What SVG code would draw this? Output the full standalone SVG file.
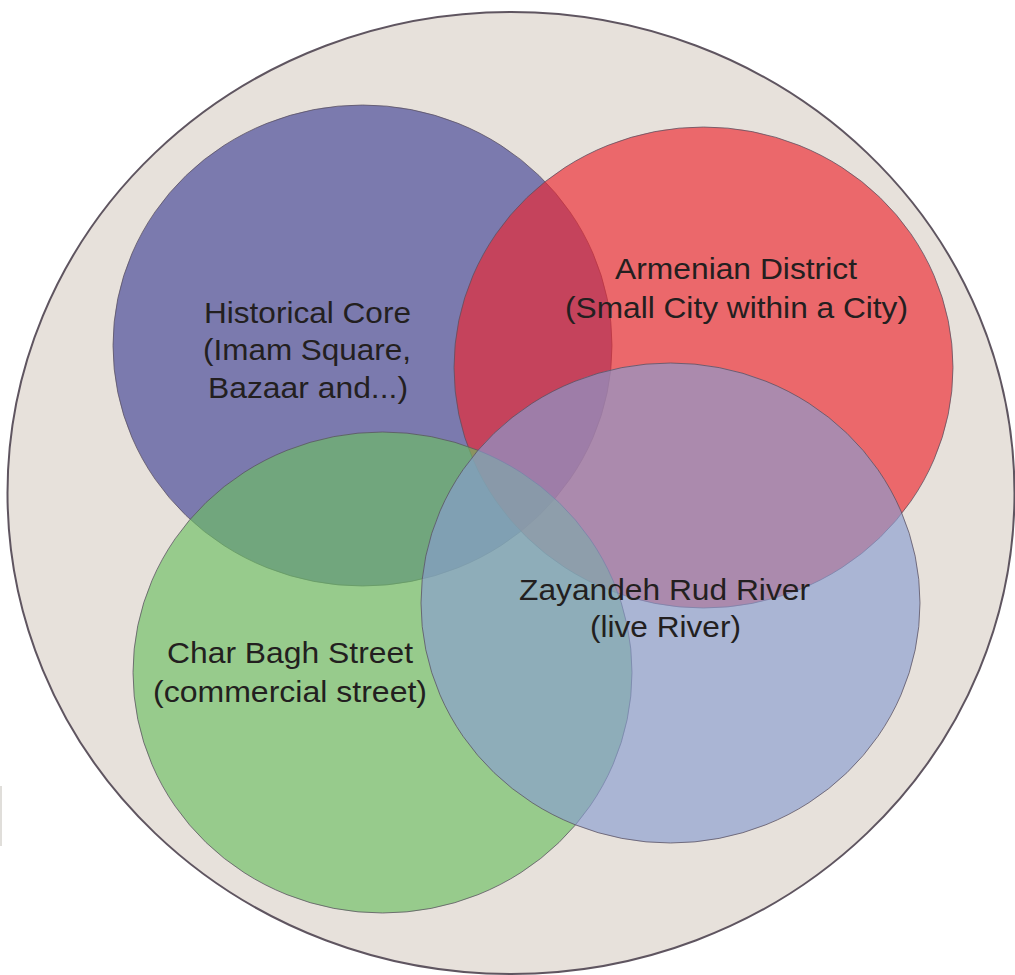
<svg xmlns="http://www.w3.org/2000/svg" width="1015" height="975" viewBox="0 0 1015 975">
<style>
.set{stroke:#5a5060;stroke-width:0.9;stroke-opacity:0.85}
.lbl{font-family:"Liberation Sans",Arial,sans-serif;font-size:29.5px;fill:#231F20;text-anchor:middle}
</style>
<rect x="0" y="0" width="1015" height="975" fill="#FFFFFF"/>
<rect x="0" y="786" width="2" height="60" fill="#E0DEDA"/>
<g id="city">
<ellipse cx="511" cy="493" rx="503.5" ry="481" fill="#E7E1DB" stroke="#5F5560" stroke-width="2"/>
</g>
<g id="historical-core">
<ellipse class="set" cx="362.5" cy="345.5" rx="249.5" ry="240.5" fill="#7B7AAE"/>
</g>
<g id="armenian-district">
<ellipse class="set" cx="703.5" cy="367.5" rx="249.5" ry="240.5" fill="#EC272F" fill-opacity="0.65"/>
</g>
<g id="char-bagh">
<ellipse class="set" cx="382.5" cy="672.5" rx="249.5" ry="240.5" fill="#6CBE62" fill-opacity="0.65"/>
</g>
<g id="zayandeh-rud">
<ellipse class="set" cx="670.5" cy="603" rx="249.5" ry="240" fill="#899CD1" fill-opacity="0.65"/>
</g>
<g id="labels">
<text class="lbl" x="307.5" y="323" textLength="207" lengthAdjust="spacingAndGlyphs">Historical Core</text>
<text class="lbl" x="307" y="360" textLength="208" lengthAdjust="spacingAndGlyphs">(Imam Square,</text>
<text class="lbl" x="308" y="398" textLength="200" lengthAdjust="spacingAndGlyphs">Bazaar and...)</text>
<text class="lbl" x="736" y="279" textLength="242" lengthAdjust="spacingAndGlyphs">Armenian District</text>
<text class="lbl" x="736.5" y="318" textLength="343" lengthAdjust="spacingAndGlyphs">(Small City within a City)</text>
<text class="lbl" x="290" y="663" textLength="246" lengthAdjust="spacingAndGlyphs">Char Bagh Street</text>
<text class="lbl" x="290" y="702" textLength="274" lengthAdjust="spacingAndGlyphs">(commercial street)</text>
<text class="lbl" x="664.5" y="600" textLength="291" lengthAdjust="spacingAndGlyphs">Zayandeh Rud River</text>
<text class="lbl" x="665.5" y="637" textLength="151" lengthAdjust="spacingAndGlyphs">(live River)</text>
</g>
</svg>
